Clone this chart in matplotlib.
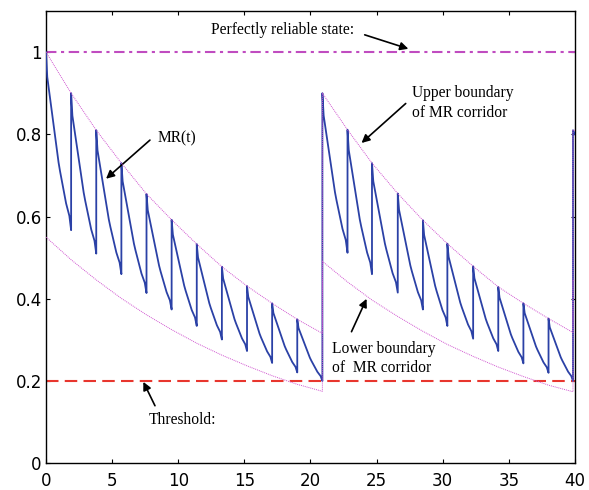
import matplotlib
matplotlib.use("Agg")
import matplotlib.pyplot as plt
import numpy as np

# --- data ---
# start times of each maintenance tooth, two MR cycles
cycle1_starts = [0.0, 1.9, 3.8, 5.7, 7.6, 9.5, 11.4, 13.3, 15.2, 17.1, 19.0]
cycle1_end = 20.9
cycle2_starts = [20.9, 22.8, 24.65, 26.6, 28.5, 30.35, 32.3, 34.2, 36.1, 38.0]
cycle2_end = 39.85

# MR(t) value just after each maintenance action, and just before the next one
cycle1_peaks = [1.0, 0.90, 0.81, 0.73, 0.655, 0.592, 0.533, 0.478, 0.431, 0.389, 0.35]
cycle1_troughs = [0.567, 0.51, 0.46, 0.414, 0.374, 0.334, 0.301, 0.273, 0.244, 0.221, 0.20]
cycle2_peaks = [0.90, 0.811, 0.73, 0.656, 0.591, 0.534, 0.479, 0.429, 0.389, 0.352]
cycle2_troughs = [0.512, 0.46, 0.415, 0.374, 0.334, 0.303, 0.273, 0.243, 0.22, 0.20]
restart_value = 0.81  # jump at the right edge
restart_tail = 0.80

# typical shape of one tooth: fraction of tooth time vs fraction of drop
tooth_time_frac = [0.0, 0.05, 0.2, 0.5, 0.56, 0.8, 0.93, 1.0]
tooth_drop_frac = [0.0, 0.14, 0.3, 0.62, 0.67, 0.85, 0.92, 1.0]

# corridor boundaries at the tooth start times (plus cycle end)
upper1 = [1.0, 0.90, 0.81, 0.73, 0.655, 0.592, 0.533, 0.478, 0.431, 0.389, 0.35, 0.316]
lower1 = [0.55, 0.495, 0.446, 0.401, 0.361, 0.325, 0.292, 0.263, 0.237, 0.213, 0.192, 0.175]
upper2 = [0.90, 0.811, 0.73, 0.656, 0.591, 0.534, 0.479, 0.429, 0.389, 0.352, 0.318]
lower2 = [0.491, 0.441, 0.397, 0.357, 0.321, 0.289, 0.26, 0.234, 0.211, 0.19, 0.174]
upper3 = 0.81
lower3 = 0.445

threshold = 0.2
perfect = 1.0

BLUE = "#2b41a6"
MAGENTA = "#d055d0"
DASHDOT = "#c04cc0"
RED = "#e8362e"


def build_mr(starts, end, peaks, troughs):
    ts, vs = [], []
    bounds = list(starts) + [end]
    for i, (p, q) in enumerate(zip(peaks, troughs)):
        t0, t1 = bounds[i], bounds[i + 1]
        for ft, fd in zip(tooth_time_frac, tooth_drop_frac):
            ts.append(t0 + ft * (t1 - t0))
            vs.append(p - fd * (p - q))
    return ts, vs


t1, v1 = build_mr(cycle1_starts, cycle1_end, cycle1_peaks, cycle1_troughs)
t2, v2 = build_mr(cycle2_starts, cycle2_end, cycle2_peaks, cycle2_troughs)
mr_t = t1 + t2 + [cycle2_end, 40.0]
mr_v = v1 + v2 + [restart_value, restart_tail]

knots1 = cycle1_starts + [cycle1_end]
knots2 = cycle2_starts + [cycle2_end]
up_t = knots1 + knots2 + [cycle2_end, 40.0]
up_v = upper1 + upper2 + [upper3, upper3]
lo_t = knots1 + knots2 + [cycle2_end, 40.0]
lo_v = lower1 + lower2 + [lower3, lower3]

fig = plt.figure(figsize=(5.89, 4.90), dpi=100)
ax = fig.add_axes([0.0781, 0.0545, 0.8981, 0.9231])

ax.plot(mr_t, mr_v, color=BLUE, lw=1.3, zorder=3)
ax.plot(up_t, up_v, color=MAGENTA, lw=0.7, ls=(0, (1, 1)), zorder=4)
ax.plot(lo_t, lo_v, color=MAGENTA, lw=0.7, ls=(0, (1, 1)), zorder=4)
ax.axhline(threshold, color=RED, lw=1.5, ls=(0, (6, 3)), zorder=2)
ax.axhline(perfect, color=DASHDOT, lw=1.5, ls=(0, (5, 2.2, 1.5, 2.2)), zorder=2)

ax.set_xlim(0, 40)
ax.set_ylim(0, 1.1)
ax.set_xticks(np.arange(0, 41, 5))
ax.set_yticks([0, 0.2, 0.4, 0.6, 0.8, 1.0])
ax.set_yticklabels(["0", "0.2", "0.4", "0.6", "0.8", "1"])
ax.tick_params(direction="in", length=3, width=0.8, top=True, right=True,
               labelsize=12)
ax.tick_params(axis="x", pad=6)
ax.tick_params(axis="y", pad=3)
for lab in ax.get_xticklabels() + ax.get_yticklabels():
    lab.set_family("DejaVu Sans")
for sp in ax.spines.values():
    sp.set_linewidth(1.0)

serif = "Liberation Serif"
fs = 11.2
arrow = dict(arrowstyle="-|>", color="black", lw=1.2, mutation_scale=12,
             shrinkA=0, shrinkB=0)

ax.text(12.45, 1.054, "Perfectly reliable state:", family=serif, fontsize=fs,
        va="center", ha="left")
ax.annotate("", xy=(27.4, 1.008), xytext=(24.1, 1.042), arrowprops=arrow)

ax.text(8.45, 0.79, "MR(t)", family=serif, fontsize=fs, va="center", ha="left")
ax.annotate("", xy=(4.54, 0.692), xytext=(7.86, 0.786), arrowprops=arrow)

ax.text(27.7, 0.876, "Upper boundary\nof MR corridor", family=serif,
        fontsize=fs, va="center", ha="left", linespacing=1.3)
ax.annotate("", xy=(23.86, 0.779), xytext=(27.2, 0.875), arrowprops=arrow)

ax.text(21.6, 0.255, "Lower boundary\nof  MR corridor", family=serif,
        fontsize=fs, va="center", ha="left", linespacing=1.3)
ax.annotate("", xy=(24.24, 0.40), xytext=(23.1, 0.32), arrowprops=arrow)

ax.text(7.74, 0.105, "Threshold:", family=serif, fontsize=fs,
        va="center", ha="left")
ax.annotate("", xy=(7.36, 0.198), xytext=(8.24, 0.14), arrowprops=arrow)

fig.savefig("out.png", dpi=100)
